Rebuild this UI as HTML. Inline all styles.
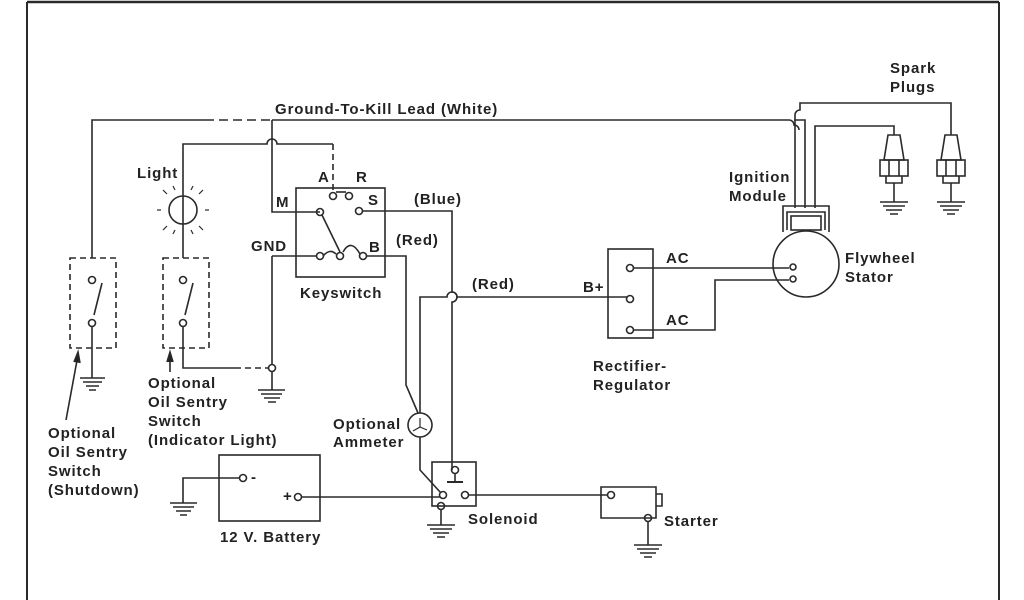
<!DOCTYPE html>
<html><head><meta charset="utf-8"><style>
html,body{margin:0;padding:0;background:#fff;}
svg{display:block}
text{font-family:"Liberation Sans",sans-serif;font-weight:bold;font-size:15px;letter-spacing:0.9px;fill:#222}
</style></head><body>
<svg width="1024" height="600" viewBox="0 0 1024 600" xmlns="http://www.w3.org/2000/svg">
<g fill="none" stroke="#2a2a2a" stroke-width="1.6">
<line x1="27" y1="2" x2="999" y2="2" stroke-width="2.5"/>
<line x1="27" y1="2" x2="27" y2="600" stroke-width="2"/>
<line x1="999" y1="2" x2="999" y2="600" stroke-width="2"/>

<path d="M92 258 V120 H205"/>
<path d="M205 120 H272" stroke-dasharray="9 5"/>
<path d="M272 120 H789 a5 5 0 0 1 5 5 a5 5 0 0 1 5 5"/>
<path d="M794 120 H805 V208"/>
<path d="M795 208 V115 a5 5 0 0 1 5 -5 V103 H951 V135"/>
<path d="M815 208 V126 H894 V135"/>

<path d="M183 258 V144 H267 a5 5 0 0 1 10 0 H333"/>
<path d="M333 144 V190" stroke-dasharray="6 4"/>
<path d="M272 120 V212 H320"/>
<circle cx="183" cy="210" r="14"/>
<g stroke-width="1.2">
<line x1="161" y1="210" x2="157" y2="210"/><line x1="205" y1="210" x2="209" y2="210"/>
<line x1="167" y1="194" x2="163" y2="190"/><line x1="199" y1="194" x2="203" y2="190"/>
<line x1="167" y1="226" x2="163" y2="230"/><line x1="199" y1="226" x2="203" y2="230"/>
<line x1="175" y1="190" x2="173" y2="186"/><line x1="191" y1="190" x2="193" y2="186"/>
<line x1="175" y1="230" x2="173" y2="234"/><line x1="191" y1="230" x2="193" y2="234"/>
</g>

<rect x="70" y="258" width="46" height="90" stroke-dasharray="6 4"/>
<rect x="163" y="258" width="46" height="90" stroke-dasharray="6 4"/>
<circle cx="92" cy="280" r="3.5"/><line x1="94" y1="315" x2="102" y2="283"/><circle cx="92" cy="323" r="3.5"/>
<path d="M92 326 V378"/>
<circle cx="183" cy="280" r="3.5"/><line x1="185" y1="315" x2="193" y2="283"/><circle cx="183" cy="323" r="3.5"/>
<path d="M183 326 V368 H235"/>
<path d="M235 368 H268" stroke-dasharray="6 4"/>
<circle cx="272" cy="368" r="3.5"/>
<path d="M272 256 V364 M272 372 V390"/>
<path d="M272 256 H316"/>
<path d="M66 420 L78 355"/><path d="M74 362 L78 352 L80 363" fill="#222"/>
<path d="M170 372 V355"/><path d="M167 362 L170 352 L173 362" fill="#222"/>

<rect x="296" y="188" width="89" height="89"/>
<circle cx="333" cy="196" r="3.5"/><circle cx="349" cy="196" r="3.5"/><line x1="336" y1="192" x2="346" y2="192"/>
<circle cx="320" cy="212" r="3.5"/><circle cx="359" cy="211" r="3.5"/>
<line x1="322" y1="215" x2="340" y2="252"/>
<circle cx="320" cy="256" r="3.5"/><circle cx="340" cy="256" r="3.5"/><circle cx="363" cy="256" r="3.5"/>
<path d="M323 256 Q330 248 336 254"/>
<path d="M343 252 Q351 238 360 254"/>
<path d="M362 211 H452 V292 a5 5 0 0 1 0 10 V470"/>
<path d="M366 256 H406 V385 L418 413"/>

<path d="M420 413 V297 H447 a5 5 0 0 1 10 0 H627"/>
<circle cx="420" cy="425" r="12"/>
<path d="M420 418 V427 L413 431 M420 427 L427 430" stroke-width="1.2"/>
<path d="M420 437 V470 L441 493"/>

<rect x="432" y="462" width="44" height="44"/>
<circle cx="455" cy="470" r="3.5"/><line x1="447" y1="482" x2="463" y2="482" stroke-width="2"/><line x1="455" y1="474" x2="455" y2="482"/>
<circle cx="443" cy="495" r="3.5"/><circle cx="465" cy="495" r="3.5"/>
<circle cx="441" cy="506" r="3.5"/>
<path d="M441 510 V525"/>
<path d="M468 495 H608"/>

<rect x="219" y="455" width="101" height="66"/>
<circle cx="243" cy="478" r="3.5"/><circle cx="298" cy="497" r="3.5"/>
<path d="M239 478 H183 V503"/>
<path d="M302 497 H440"/>

<path d="M601 487 H656 V518 H601 Z"/>
<path d="M656 494 H662 V506 H656"/>
<circle cx="611" cy="495" r="3.5"/><circle cx="648" cy="518" r="3.5"/>
<path d="M648 522 V545"/>

<rect x="608" y="249" width="45" height="89"/>
<circle cx="630" cy="268" r="3.5"/><circle cx="630" cy="299" r="3.5"/><circle cx="630" cy="330" r="3.5"/>
<path d="M634 268 H789"/>
<path d="M634 330 H715 V280 H789"/>

<circle cx="806" cy="264" r="33"/>
<circle cx="793" cy="267" r="3"/><circle cx="793" cy="279" r="3"/>
<path d="M783 232 V206 H829 V232"/>
<path d="M787 230 V212 H825 V230"/>
<rect x="791" y="216" width="30" height="14"/>

<g>
<path d="M888 135 H900 L904 160 H884 Z"/>
<rect x="880" y="160" width="28" height="16"/><line x1="889" y1="160" x2="889" y2="176"/><line x1="899" y1="160" x2="899" y2="176"/>
<path d="M886 176 V183 H902 V176"/>
<line x1="894" y1="183" x2="894" y2="202"/>
<path d="M945 135 H957 L961 160 H941 Z"/>
<rect x="937" y="160" width="28" height="16"/><line x1="946" y1="160" x2="946" y2="176"/><line x1="956" y1="160" x2="956" y2="176"/>
<path d="M943 176 V183 H959 V176"/>
<line x1="951" y1="183" x2="951" y2="202"/>
</g>

<g stroke-width="1.5">
<path d="M80 378 H105 M83 382 H102 M86 386 H99 M89 390 H96"/>
<path d="M258 390 H285 M261 394 H282 M264 398 H280 M268 402 H276"/>
<path d="M170 503 H197 M173 507 H194 M176 511 H191 M180 515 H187"/>
<path d="M427 525 H455 M430 529 H452 M433 533 H449 M437 537 H445"/>
<path d="M634 545 H662 M637 549 H659 M640 553 H656 M644 557 H652"/>
<path d="M880 202 H908 M883 206 H905 M886 210 H902 M890 214 H898"/>
<path d="M937 202 H965 M940 206 H962 M943 210 H959 M947 214 H955"/>
</g>
</g>

<text x="275" y="114">Ground-To-Kill Lead  (White)</text>
<text x="890" y="73">Spark</text><text x="890" y="92">Plugs</text>
<text x="729" y="182">Ignition</text><text x="729" y="201">Module</text>
<text x="137" y="178">Light</text>
<text x="318" y="182">A</text><text x="356" y="182">R</text>
<text x="276" y="207">M</text><text x="368" y="205">S</text>
<text x="251" y="251">GND</text><text x="369" y="252">B</text>
<text x="414" y="204">(Blue)</text>
<text x="396" y="245">(Red)</text>
<text x="300" y="298">Keyswitch</text>
<text x="472" y="289">(Red)</text>
<text x="583" y="292">B+</text>
<text x="666" y="263">AC</text><text x="666" y="325">AC</text>
<text x="845" y="263">Flywheel</text><text x="845" y="282">Stator</text>
<text x="593" y="371">Rectifier-</text><text x="593" y="390">Regulator</text>
<text x="148" y="388">Optional</text><text x="148" y="407">Oil Sentry</text><text x="148" y="426">Switch</text><text x="148" y="445">(Indicator Light)</text>
<text x="48" y="438">Optional</text><text x="48" y="457">Oil Sentry</text><text x="48" y="476">Switch</text><text x="48" y="495">(Shutdown)</text>
<text x="333" y="429">Optional</text><text x="333" y="447">Ammeter</text>
<text x="251" y="482" font-size="11">-</text><text x="283" y="501" font-size="11">+</text>
<text x="468" y="524">Solenoid</text>
<text x="220" y="542">12 V. Battery</text>
<text x="664" y="526">Starter</text>
</svg>
</body></html>
